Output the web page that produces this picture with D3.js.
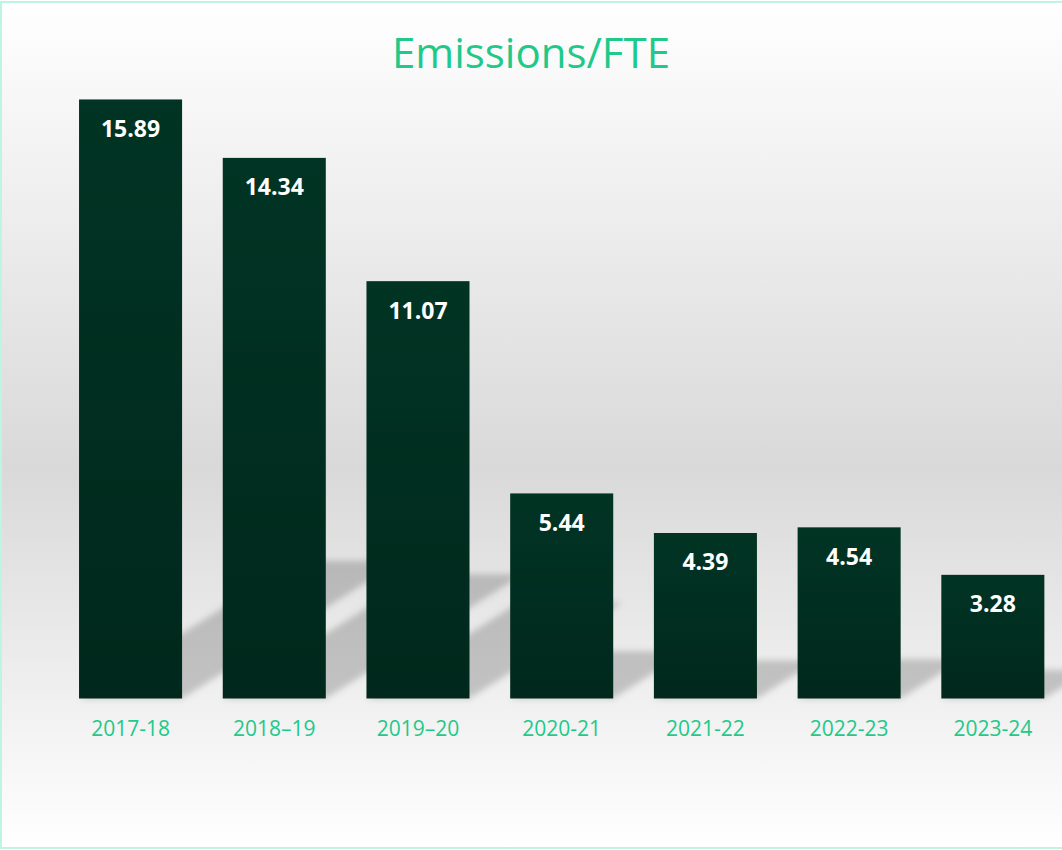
<!DOCTYPE html>
<html>
<head>
<meta charset="utf-8">
<script src="https://cdn.jsdelivr.net/npm/d3@7"></script>
<style>
  html, body { margin: 0; padding: 0; background: #fff; overflow: hidden; }
</style>
</head>
<body>
<div class="chart"></div>
<script>
const years = ["2017-18", "2018\u201319", "2019\u201320", "2020-21", "2021-22", "2022-23", "2023-24"];
const emissions = [15.89, 14.34, 11.07, 5.44, 4.39, 4.54, 3.28];

const width = 1062;
const height = 850;
const baseY = 698.5;

const svg = d3.select(".chart").append("svg")
  .attr("width", width)
  .attr("height", height);

const defs = svg.append("defs");

// wall/floor background
const bg = defs.append("linearGradient")
  .attr("id", "bg").attr("x1", 0).attr("y1", 0).attr("x2", 0).attr("y2", 1);
bg.append("stop").attr("offset", 0).attr("stop-color", "#ffffff");
bg.append("stop").attr("offset", 0.55).attr("stop-color", "#d9d9d9");
bg.append("stop").attr("offset", 1).attr("stop-color", "#ffffff");

const barFill = defs.append("linearGradient")
  .attr("id", "barFill").attr("x1", 0).attr("y1", 0).attr("x2", 0).attr("y2", 1);
barFill.append("stop").attr("offset", 0).attr("stop-color", "#013424");
barFill.append("stop").attr("offset", 1).attr("stop-color", "#00281c");

defs.append("filter")
  .attr("id", "blur")
  .attr("x", "-20%").attr("y", "-20%").attr("width", "140%").attr("height", "140%")
  .append("feGaussianBlur").attr("stdDeviation", 3);

svg.append("rect")
  .attr("x", 0).attr("y", 0)
  .attr("width", width).attr("height", height)
  .attr("fill", "url(#bg)");

const x = d3.scaleBand()
  .domain(years)
  .range([58.7, 1064.7])
  .paddingInner(0.283)
  .paddingOuter(0.1415);

const y = d3.scaleLinear()
  .domain([0, 18])
  .range([baseY, 19.9]);

// perspective shadows (diagonal upper right)
const sx = 0.365, sy = 0.23;
svg.append("g")
  .attr("filter", "url(#blur)")
  .selectAll("path")
  .data(emissions)
  .join("path")
  .attr("d", (d, i) => {
    const x0 = x(years[i]);
    const x1 = x0 + x.bandwidth();
    const h = baseY - y(d);
    return `M${x0},${baseY}L${x1},${baseY}L${x1 + sx * h},${baseY - sy * h}L${x0 + sx * h},${baseY - sy * h}Z`;
  })
  .attr("fill", "#000")
  .attr("fill-opacity", 0.19);

svg.append("g")
  .selectAll("rect")
  .data(emissions)
  .join("rect")
  .attr("x", (d, i) => x(years[i]))
  .attr("y", d => y(d))
  .attr("width", x.bandwidth())
  .attr("height", d => baseY - y(d))
  .attr("fill", "url(#barFill)");

svg.append("g")
  .selectAll("text")
  .data(emissions)
  .join("text")
  .attr("x", (d, i) => x(years[i]) + x.bandwidth() / 2)
  .attr("y", d => y(d) + 37.5)
  .attr("text-anchor", "middle")
  .attr("font-family", "'Open Sans', sans-serif")
  .attr("font-weight", "bold")
  .attr("font-size", "23px")
  .attr("fill", "#ffffff")
  .text(d => d.toFixed(2));

const xAxis = svg.append("g")
  .attr("transform", `translate(0,${baseY})`)
  .call(d3.axisBottom(x).tickSize(0).tickPadding(22.6));
xAxis.select(".domain").remove();
xAxis.selectAll("text")
  .attr("font-family", "'Open Sans', sans-serif")
  .attr("font-size", "21px")
  .attr("fill", "#1ec98a");

svg.append("text")
  .attr("x", width / 2)
  .attr("y", 68)
  .attr("text-anchor", "middle")
  .attr("font-family", "'Open Sans', sans-serif")
  .attr("font-size", "42px")
  .attr("fill", "#1ec98a")
  .text("Emissions/FTE");

// chart frame, right side runs off the page
svg.append("rect")
  .attr("x", 1).attr("y", 2)
  .attr("width", 1100).attr("height", 846)
  .attr("fill", "none")
  .attr("stroke", "#bdf5e1")
  .attr("stroke-width", 2);
</script>
</body>
</html>
